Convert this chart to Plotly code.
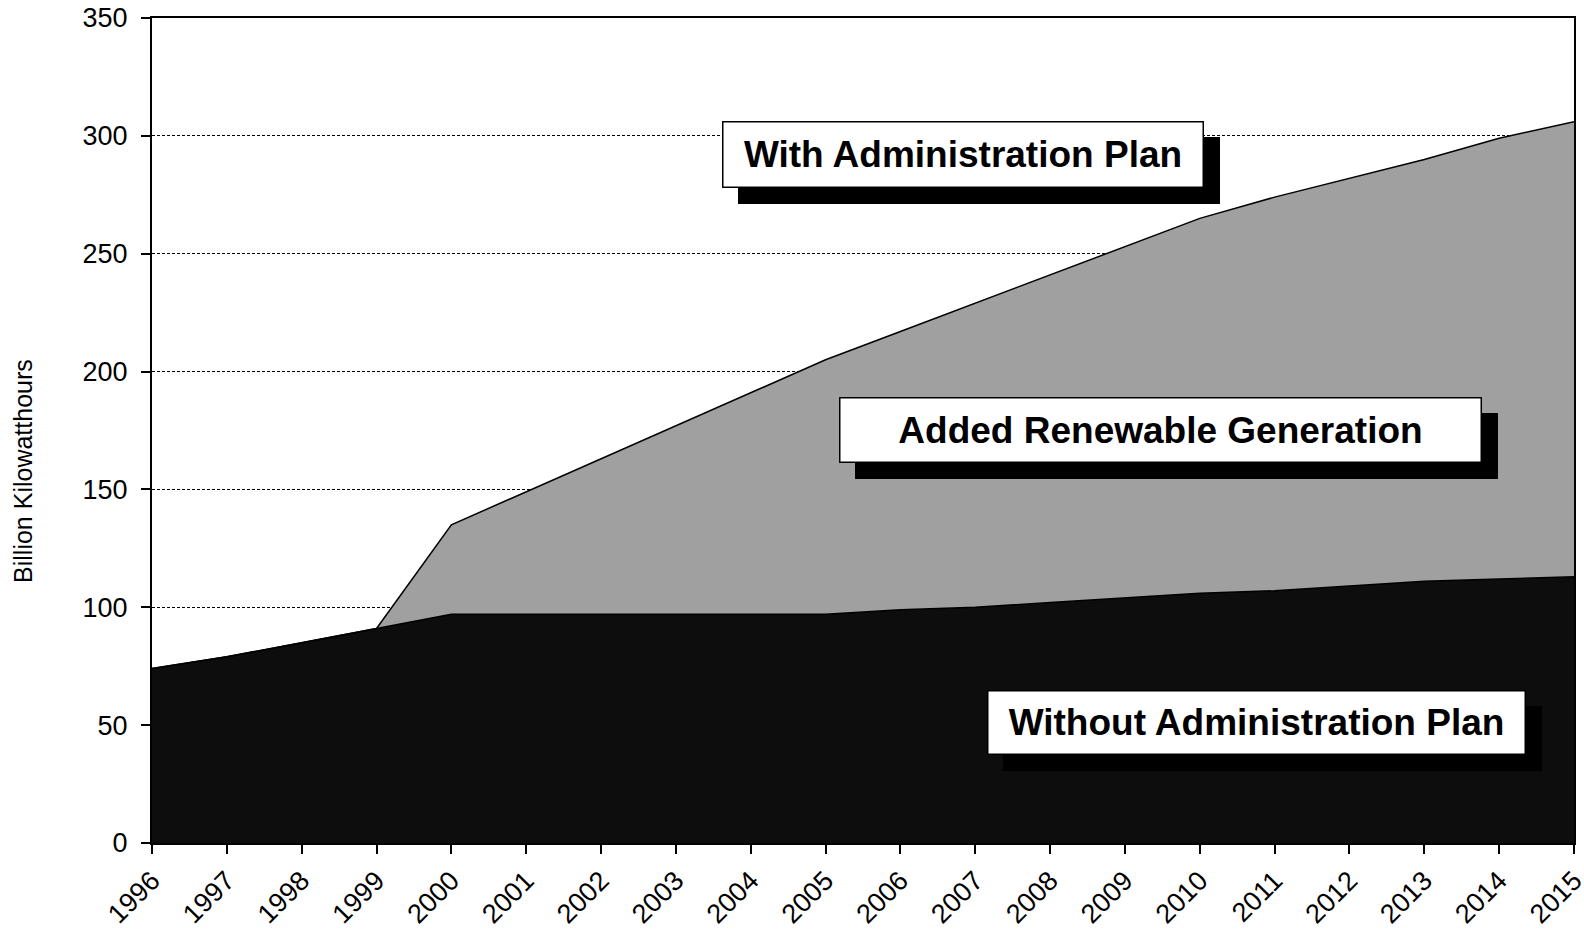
import plotly.graph_objects as go

# Electricity generation from renewables, billion kilowatthours
years = list(range(1996, 2016))
without_plan = [74, 79, 85, 91, 97, 97, 97, 97, 97, 97,
                99, 100, 102, 104, 106, 107, 109, 111, 112, 113]
with_plan = [74, 79, 85, 91, 135, 149, 163, 177, 191, 205,
             217, 229, 241, 253, 265, 274, 282, 290, 299, 306]

y_ticks = [0, 50, 100, 150, 200, 250, 300, 350]

FONT = "Liberation Sans, Arial, sans-serif"

fig = go.Figure()

fig.add_trace(go.Scatter(
    x=years, y=without_plan, mode="lines",
    line=dict(color="#000000", width=1.5),
    fill="tozeroy", fillcolor="#0d0d0d",
    name="Without Administration Plan", hoverinfo="x+y",
))
fig.add_trace(go.Scatter(
    x=years, y=with_plan, mode="lines",
    line=dict(color="#000000", width=1.5),
    fill="tonexty", fillcolor="#a0a0a0",
    name="With Administration Plan", hoverinfo="x+y",
))

# Labelled boxes with a solid drop shadow
labels = [
    ("With Administration Plan", 2006.84, 291.9, 479, 64),
    ("Added Renewable Generation", 2009.47, 175.2, 640, 63),
    ("Without Administration Plan", 2010.76, 51.2, 536, 62),
]
for text, x, y, w, h in labels:
    common = dict(x=x, y=y, xref="x", yref="y", showarrow=False,
                  width=w, height=h, borderpad=0, borderwidth=1.5,
                  align="center", valign="middle",
                  font=dict(family=FONT, size=37, color="#000000"))
    # shadow box: same size, offset down-right, no text of its own
    fig.add_annotation(text="&nbsp;", bgcolor="#000000",
                       bordercolor="#000000", xshift=16, yshift=-16,
                       **common)
    fig.add_annotation(text=f"<b>{text}</b>", bgcolor="#ffffff",
                       bordercolor="#000000", **common)

# Rotated y-axis title
fig.add_annotation(text="Billion Kilowatthours", textangle=-90,
                   xref="paper", yref="paper", x=0, y=0.451,
                   xshift=-129, xanchor="center", yanchor="middle",
                   showarrow=False,
                   font=dict(family=FONT, size=25, color="#000000"))

fig.update_xaxes(
    range=[1995.9999, 2015.0001], tickmode="array", tickvals=years,
    ticktext=[str(v) for v in years], tickangle=-45,
    ticklabeloverflow="allow",
    ticks="outside", ticklen=9, tickcolor="#000000", tickwidth=1.5,
    showline=True, linecolor="#000000", linewidth=2, mirror=True,
    showgrid=False, zeroline=False, automargin=False,
    tickfont=dict(family=FONT, size=27, color="#000000"),
)
fig.update_yaxes(
    range=[0, 350], tickmode="array", tickvals=y_ticks,
    ticks="outside", ticklen=9, tickcolor="#000000", tickwidth=1.5,
    showline=True, linecolor="#000000", linewidth=2, mirror=True,
    showgrid=True, gridcolor="#000000", gridwidth=1, griddash="3px,2px",
    zeroline=False, automargin=False, ticklabelstandoff=8,
    tickfont=dict(family=FONT, size=27, color="#000000"),
)

fig.update_layout(
    width=1584, height=931,
    margin=dict(l=152, r=10, t=18, b=88),
    paper_bgcolor="#ffffff", plot_bgcolor="#ffffff",
    showlegend=False,
    font=dict(family=FONT, color="#000000"),
)

fig.write_html("out.html")
